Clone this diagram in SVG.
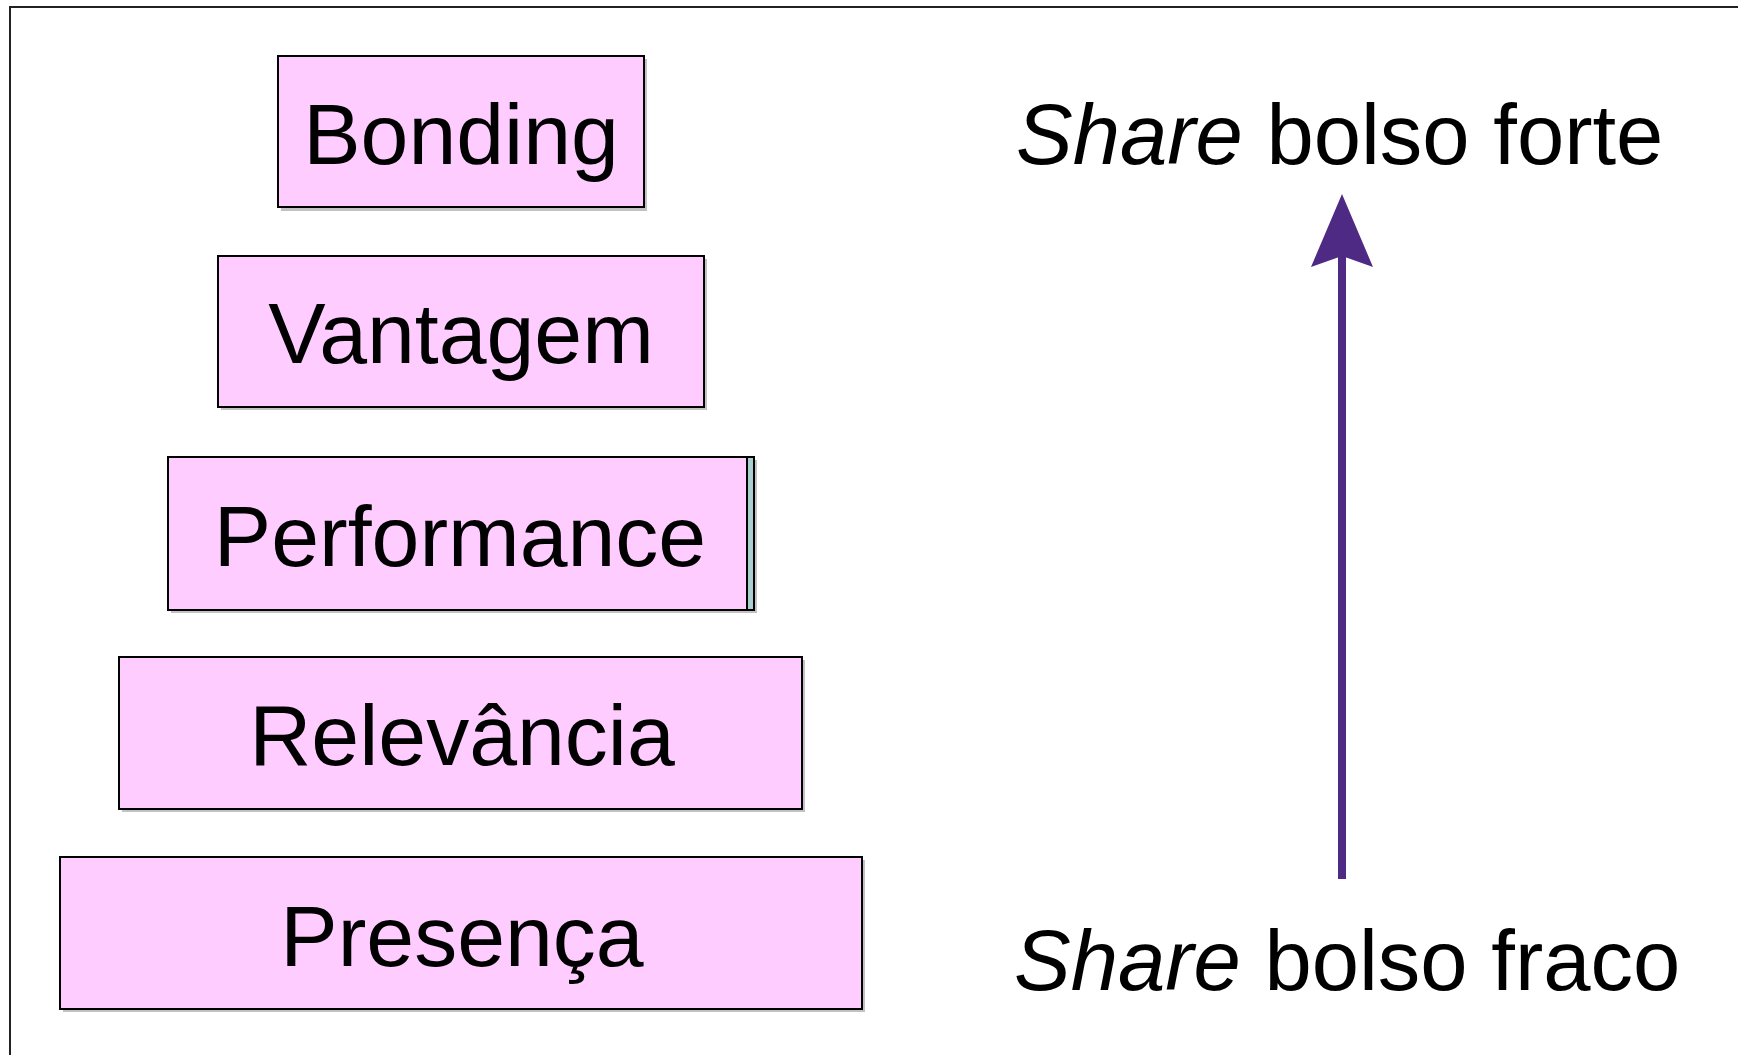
<svg xmlns="http://www.w3.org/2000/svg" width="1738" height="1055" viewBox="0 0 1738 1055">
<style>
.box{fill:#FFCCFF;stroke:#000;stroke-width:2}
.shadow{fill:#9a9a9a;opacity:0.6}
.lbl{font-family:"Liberation Sans",Arial,sans-serif;font-size:86px;fill:#000;text-anchor:middle}
.side{font-family:"Liberation Sans",Arial,sans-serif;font-size:85px;fill:#000}
.conn{stroke:#4E2A84;stroke-width:8;fill:none}
</style>
<defs>
<marker id="ah" markerUnits="userSpaceOnUse" viewBox="0 0 73 62" refX="11" refY="31" markerWidth="73" markerHeight="62" orient="auto">
<path d="M0,0 L73,31 L0,62 L11,31 Z" fill="#4E2A84"/>
</marker>
</defs>
<rect width="1738" height="1055" fill="#fff"/>
<path d="M10,1055 V7 H1738" fill="none" stroke="#222" stroke-width="2"/>
<g id="bonding">
<rect class="shadow" x="281" y="59" width="366" height="152"/>
<rect class="box" x="278" y="56" width="366" height="151"/>
<text class="lbl" x="461" y="164">Bonding</text>
</g>
<g id="vantagem">
<rect class="shadow" x="221" y="259" width="486" height="151"/>
<rect class="box" x="218" y="256" width="486" height="151"/>
<text class="lbl" x="461" y="363">Vantagem</text>
</g>
<g id="performance">
<rect class="shadow" x="171" y="460" width="586" height="153"/>
<rect class="box" x="168" y="457" width="586" height="153"/>
<rect x="747" y="458" width="6" height="151" fill="#a9cfd0"/>
<line x1="747" y1="457" x2="747" y2="610" stroke="#000" stroke-width="2"/>
<text class="lbl" x="460" y="566">Performance</text>
</g>
<g id="relevancia">
<rect class="shadow" x="122" y="660" width="683" height="152"/>
<rect class="box" x="119" y="657" width="683" height="152"/>
<text class="lbl" x="462" y="765">Relevância</text>
</g>
<g id="presenca">
<rect class="shadow" x="63" y="860" width="802" height="152"/>
<rect class="box" x="60" y="857" width="802" height="152"/>
<text class="lbl" x="462" y="966">Presença</text>
</g>
<g id="label-forte">
<text class="side" x="1016" y="164"><tspan font-style="italic">Share</tspan> bolso forte</text>
</g>
<g id="label-fraco">
<text class="side" x="1014" y="990"><tspan font-style="italic">Share</tspan> bolso fraco</text>
</g>
<g id="connectors">
<line class="conn" x1="1342" y1="879" x2="1342" y2="256" marker-end="url(#ah)"/>
</g>
</svg>
